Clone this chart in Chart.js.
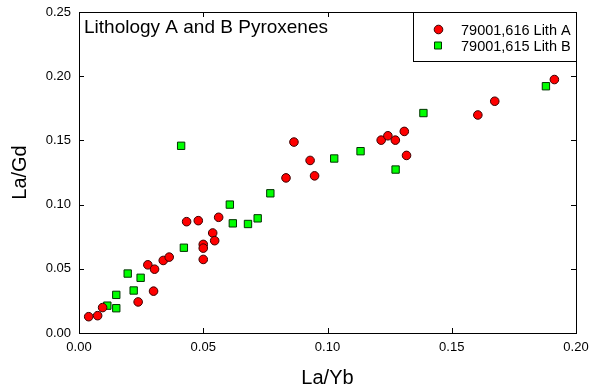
<!DOCTYPE html>
<html>
<head>
<meta charset="utf-8">
<script src="https://cdn.jsdelivr.net/npm/chart.js@4"></script>
<style>
  html, body { margin: 0; padding: 0; background: #fff; }
  #wrap { width: 589px; height: 390px; }
</style>
</head>
<body>
<div id="wrap"><canvas id="grafico" width="589" height="390"></canvas></div>
<script>
  // Lith A (79001,616) - red circles
  const lithAx = [0.0039, 0.0075, 0.0095, 0.0238, 0.0300, 0.0277, 0.0304, 0.0339, 0.0363, 0.0433,
                  0.0480, 0.0562, 0.0538, 0.0546, 0.0500, 0.0500, 0.0500, 0.0833, 0.0948, 0.0865,
                  0.0930, 0.1216, 0.1243, 0.1273, 0.1309, 0.1318, 0.1605, 0.1673, 0.1913];
  const lithAy = [0.0127, 0.0135, 0.0198, 0.0242, 0.0326, 0.0531, 0.0497, 0.0565, 0.0591, 0.0867,
                  0.0875, 0.0901, 0.0779, 0.0719, 0.0690, 0.0661, 0.0573, 0.1208, 0.1224, 0.1487,
                  0.1344, 0.1502, 0.1536, 0.1502, 0.1570, 0.1383, 0.1698, 0.1805, 0.1974];
  // Lith B (79001,615) - green squares
  const lithBx = [0.0114, 0.0150, 0.0150, 0.0196, 0.0220, 0.0248, 0.0422, 0.0607, 0.0619, 0.0680,
                  0.0719, 0.0770, 0.0411, 0.1027, 0.1133, 0.1274, 0.1386, 0.1879];
  const lithBy = [0.0213, 0.0193, 0.0297, 0.0463, 0.0331, 0.0430, 0.0664, 0.1000, 0.0854, 0.0849,
                  0.0893, 0.1088, 0.1458, 0.1359, 0.1416, 0.1273, 0.1713, 0.1922];

  const xTicks = [0, 0.05, 0.10, 0.15, 0.20];
  const yTicks = [0, 0.05, 0.10, 0.15, 0.20, 0.25];
  const titulo = 'Lithology A and B Pyroxenes';
  const nomes = ['79001,616 Lith A', '79001,615 Lith B'];

  const pontos = (xs, ys) => xs.map((x, i) => ({ x: x, y: ys[i] }));
  const fonte = 'Arial, "Liberation Sans", sans-serif';

  // box, inward ticks, inner title and legend
  const moldura = {
    id: 'moldura',
    afterDraw(chart) {
      const c = chart.ctx;
      const a = chart.chartArea;
      const sx = chart.scales.x, sy = chart.scales.y;
      c.save();
      c.strokeStyle = '#000';
      c.lineWidth = 1;
      c.strokeRect(Math.round(a.left) + 0.5, Math.round(a.top) + 0.5,
                   Math.round(a.right - a.left), Math.round(a.bottom - a.top));
      c.beginPath();
      xTicks.forEach(v => {
        const px = Math.round(sx.getPixelForValue(v)) + 0.5;
        c.moveTo(px, a.bottom); c.lineTo(px, a.bottom - 5);
        c.moveTo(px, a.top); c.lineTo(px, a.top + 5);
      });
      yTicks.forEach(v => {
        const py = Math.round(sy.getPixelForValue(v)) + 0.5;
        c.moveTo(a.left, py); c.lineTo(a.left + 5, py);
        c.moveTo(a.right, py); c.lineTo(a.right - 5, py);
      });
      c.stroke();

      c.fillStyle = '#000';
      c.font = '19px ' + fonte;
      c.textBaseline = 'middle';
      c.textAlign = 'left';
      c.fillText(titulo, a.left + 5, a.top + 16);

      // legend box
      const lx = 413.5, ly = Math.round(a.top) + 0.5, lw = Math.round(a.right) - 413, lh = 49;
      c.fillStyle = '#fff';
      c.fillRect(lx, ly, lw, lh);
      c.strokeRect(lx, ly, lw, lh);
      c.font = '14.5px ' + fonte;
      chart.data.datasets.forEach((ds, i) => {
        const yy = ly + 17 + i * 16;
        c.fillStyle = ds.backgroundColor;
        c.strokeStyle = ds.borderColor;
        c.beginPath();
        if (ds.pointStyle === 'rect') {
          c.rect(434.5, yy - 3.5, 7, 7);
        } else {
          c.arc(438.5, yy, 4.3, 0, Math.PI * 2);
        }
        c.fill(); c.stroke();
        c.fillStyle = '#000';
        c.fillText(ds.label, 461, yy + 1);
      });
      c.restore();
    }
  };

  const ctx = document.getElementById('grafico').getContext('2d');
  const chart = new Chart(ctx, {
    type: 'scatter',
    data: {
      datasets: [
        {
          label: nomes[0],
          data: pontos(lithAx, lithAy),
          pointStyle: 'circle',
          pointRadius: 4.3,
          backgroundColor: '#ff0000',
          borderColor: '#3a0000',
          borderWidth: 1
        },
        {
          label: nomes[1],
          data: pontos(lithBx, lithBy),
          pointStyle: 'rect',
          pointRadius: 5.2,
          backgroundColor: '#00ff00',
          borderColor: '#003300',
          borderWidth: 1
        }
      ]
    },
    options: {
      responsive: false,
      animation: false,
      layout: { padding: { top: 12, right: 13, left: 0, bottom: 0 } },
      scales: {
        x: {
          type: 'linear',
          min: 0, max: 0.2,
          afterFit: s => { s.height = 57; s.paddingLeft = 0; s.paddingRight = 0; },
          afterBuildTicks: s => { s.ticks = xTicks.map(v => ({ value: v })); },
          grid: { display: false, drawTicks: false },
          border: { display: false },
          ticks: {
            padding: 7,
            color: '#000',
            font: { size: 13, family: fonte },
            maxRotation: 0,
            callback: v => v.toFixed(2)
          },
          title: {
            display: true,
            text: 'La/Yb',
            color: '#000',
            font: { size: 20, family: fonte },
            padding: { top: 0, bottom: 0 }
          }
        },
        y: {
          type: 'linear',
          min: 0, max: 0.25,
          afterFit: s => { s.width = 79; s.paddingTop = 0; s.paddingBottom = 0; },
          afterBuildTicks: s => { s.ticks = yTicks.map(v => ({ value: v })); },
          grid: { display: false, drawTicks: false },
          border: { display: false },
          ticks: {
            padding: 8,
            color: '#000',
            font: { size: 13, family: fonte },
            callback: v => v.toFixed(2)
          },
          title: {
            display: true,
            text: 'La/Gd',
            color: '#000',
            font: { size: 20, family: fonte },
            padding: { top: 8, bottom: 0 }
          }
        }
      },
      plugins: {
        legend: { display: false },
        tooltip: { enabled: false }
      }
    },
    plugins: [moldura]
  });
</script>
</body>
</html>
